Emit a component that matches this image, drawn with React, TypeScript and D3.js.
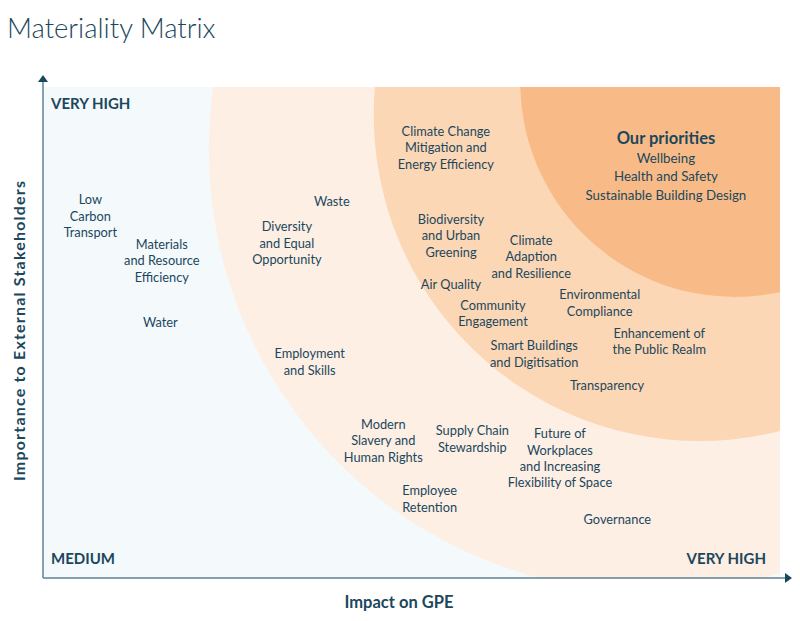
import { useMemo } from 'react';
import * as d3 from 'd3';

// topic labels: line breaks as in the source, plus impact (x) / importance (y) scores 0-100
const topicLines: string[][] = [
  ['Low', 'Carbon', 'Transport'],
  ['Materials', 'and Resource', 'Efficiency'],
  ['Water'],
  ['Diversity', 'and Equal', 'Opportunity'],
  ['Waste'],
  ['Employment', 'and Skills'],
  ['Climate Change', 'Mitigation and', 'Energy Efficiency'],
  ['Biodiversity', 'and Urban', 'Greening'],
  ['Climate', 'Adaption', 'and Resilience'],
  ['Air Quality'],
  ['Community', 'Engagement'],
  ['Environmental', 'Compliance'],
  ['Smart Buildings', 'and Digitisation'],
  ['Enhancement of', 'the Public Realm'],
  ['Transparency'],
  ['Modern', 'Slavery and', 'Human Rights'],
  ['Supply Chain', 'Stewardship'],
  ['Future of', 'Workplaces', 'and Increasing', 'Flexibility of Space'],
  ['Employee', 'Retention'],
  ['Governance'],
];
const impact = [6.3, 16.0, 15.8, 33.0, 39.1, 36.1, 54.6, 55.3, 66.2, 55.3, 61.0, 75.5, 66.6, 83.6, 76.5, 46.1, 58.2, 70.1, 52.4, 77.9];
const importance = [73.7, 64.6, 52.1, 68.2, 76.6, 44.0, 87.6, 69.7, 65.4, 59.7, 53.8, 56.0, 45.6, 48.1, 39.1, 27.9, 28.3, 24.4, 16.1, 12.0];

const priorities = ['Wellbeing', 'Health and Safety', 'Sustainable Building Design'];
const prioritiesPos = { impact: 84.5, importance: 89.6 };

// materiality zones (centre in score units, radius in impact units)
const zoneColors = ['#fdefe4', '#fbd7b6', '#f8bb87'];
const zoneCx = [82.5, 89.1, 93.9];
const zoneCy = [87.2, 94.3, 101.0];
const zoneR = [60.1, 44.3, 29.2];

const W = 800;
const H = 621;
const left = 44;
const right = 780;
const top = 87;
const bottom = 578;

const ink = '#1b475c';
const font = 'Lato, "Open Sans", sans-serif';

export default function App() {
  const x = useMemo(() => d3.scaleLinear().domain([0, 100]).range([left, right]), []);
  const y = useMemo(() => d3.scaleLinear().domain([0, 100]).range([bottom, top]), []);
  const lh = 16.3;

  return (
    <svg width={W} height={H} style={{ display: 'block', position: 'absolute', left: 0, top: 0 }}>
      <defs>
        <clipPath id="plot">
          <rect x={left} y={top} width={right - left} height={bottom - top} />
        </clipPath>
      </defs>
      <rect width={W} height={H} fill="#fff" />
      <text x={7} y={38} fontFamily={font} fontWeight={300} fontSize={27.5} fill={ink}>
        Materiality Matrix
      </text>

      <g clipPath="url(#plot)">
        <rect x={left} y={top} width={right - left} height={bottom - top} fill="#f4f9fc" />
        {zoneR.map((r, i) => (
          <circle
            key={i}
            cx={x(zoneCx[i])}
            cy={y(zoneCy[i])}
            r={x(r) - x(0)}
            fill={zoneColors[i]}
          />
        ))}
      </g>

      {/* axes */}
      <line x1={left - 1} x2={left - 1} y1={bottom} y2={80} stroke="#5f8291" strokeWidth={1.5} />
      <line x1={left - 1} x2={786} y1={bottom} y2={bottom} stroke="#5f8291" strokeWidth={1.5} />
      <path d={`M${left - 1},75 L${left - 6},82 L${left + 4},82 Z`} fill={ink} />
      <path d={`M792,${bottom} L785,${bottom - 5} L785,${bottom + 5} Z`} fill={ink} />

      <g fontFamily={font} fontWeight={700} fontSize={15} fill={ink}>
        <text x={51} y={109}>VERY HIGH</text>
        <text x={51} y={564}>MEDIUM</text>
        <text x={766} y={564} textAnchor="end">VERY HIGH</text>
      </g>
      <text x={399} y={608} textAnchor="middle" fontFamily={font} fontWeight={700} fontSize={16.5} fill={ink}>
        Impact on GPE
      </text>
      <text
        transform="translate(24.5,331) rotate(-90)"
        textAnchor="middle"
        fontFamily={font}
        fontWeight={700}
        fontSize={16}
        textLength={300}
        lengthAdjust="spacing"
        fill={ink}
      >
        Importance to External Stakeholders
      </text>

      <g fontFamily={font} fontSize={12.8} fill={ink} textAnchor="middle">
        {topicLines.map((lines, i) => {
          const cy = y(importance[i]);
          const y0 = cy - ((lines.length - 1) * lh) / 2;
          return (
            <text key={i}>
              {lines.map((ln, j) => (
                <tspan key={j} x={x(impact[i])} y={y0 + j * lh} dy="0.35em">
                  {ln}
                </tspan>
              ))}
            </text>
          );
        })}
      </g>

      <g fontFamily={font} fill={ink} textAnchor="middle">
        <text x={x(prioritiesPos.impact)} y={y(prioritiesPos.importance)} dy="0.35em" fontSize={16.5} fontWeight={700}>
          Our priorities
        </text>
        {priorities.map((p, i) => (
          <text
            key={p}
            x={x(prioritiesPos.impact)}
            y={y(prioritiesPos.importance) + 20 + i * 18.5}
            dy="0.35em"
            fontSize={13.3}
          >
            {p}
          </text>
        ))}
      </g>
    </svg>
  );
}
